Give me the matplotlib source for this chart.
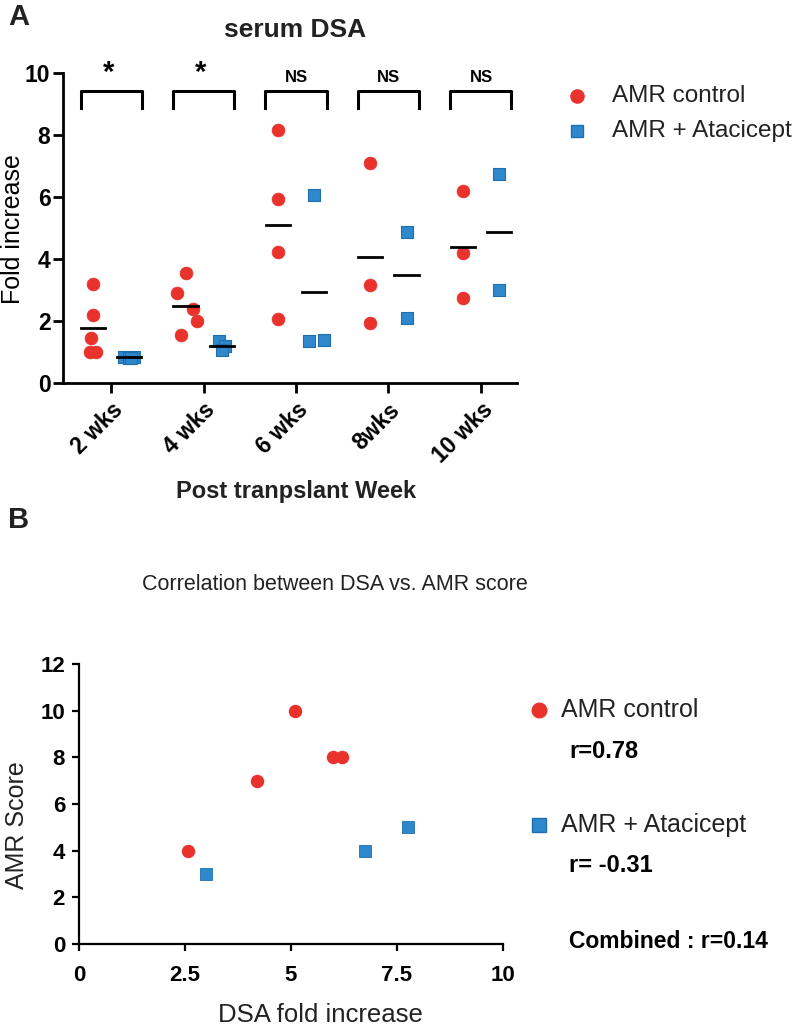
import matplotlib
matplotlib.use("Agg")
import matplotlib.pyplot as plt
import numpy as np

plt.rcParams["font.family"] = ["Liberation Sans", "DejaVu Sans"]

# ---------------- data ----------------
weeks = ["2 wks", "4 wks", "6 wks", "8wks", "10 wks"]
ctrl_vals = [
    [3.2, 2.2, 1.45, 1.0, 1.0],
    [3.55, 2.9, 2.4, 2.0, 1.55],
    [8.15, 5.95, 4.22, 2.05],
    [7.1, 3.15, 1.92],
    [6.2, 4.18, 2.75],
]
atac_vals = [
    [0.85, 0.8, 0.85, 0.8],
    [1.35, 1.2, 1.05],
    [6.05, 1.35, 1.4],
    [4.88, 2.1],
    [6.75, 3.0],
]
signif = ["*", "*", "NS", "NS", "NS"]

dsa_ctrl = [2.57, 4.2, 5.1, 6.0, 6.2]
amr_ctrl = [4, 7, 10, 8, 8]
dsa_atac = [3.0, 6.75, 7.75]
amr_atac = [3, 4, 5]
r_ctrl = "r=0.78"
r_atac = "r= -0.31"
r_comb = "Combined : r=0.14"

# jitter offsets (style: horizontal spread inside each column)
ctrl_jit = [
    [0, 0, -0.02, -0.03, 0.03],
    [0.01, -0.09, 0.08, 0.12, -0.05],
    [0, 0, 0, 0],
    [0, 0, 0],
    [0, 0, 0],
]
atac_jit = [
    [-0.05, 0.0, 0.05, 0.02],
    [-0.03, 0.04, 0.0],
    [0.0, -0.05, 0.11],
    [0, 0],
    [0, 0],
]

RED = "#E8322B"
BLUE = "#2F88CC"
BLUE_E = "#1F6FAE"
TXT = "#222222"

W, H = 800, 1027
fig = plt.figure(figsize=(8, 10.27), dpi=100)


def fx(px):
    return px / W


def fy(py):
    return 1 - py / H


# ---------------- Panel A ----------------
axA = fig.add_axes([fx(63), fy(383), (517 - 63) / W, (383 - 73) / H])
x = np.arange(len(weeks))
off = 0.195
for i in range(len(weeks)):
    cx = x[i] - off + np.array(ctrl_jit[i])
    axA.scatter(cx, ctrl_vals[i], s=85, marker="o", color=RED, edgecolor=RED, linewidth=0.5, zorder=3, clip_on=False)
    bx = x[i] + off + np.array(atac_jit[i])
    axA.scatter(bx, atac_vals[i], s=80, marker="s", color=BLUE, edgecolor=BLUE_E, linewidth=0.8, zorder=3, clip_on=False)
    m1 = np.mean(ctrl_vals[i])
    m2 = np.mean(atac_vals[i])
    axA.plot([x[i] - off - 0.13, x[i] - off + 0.13], [m1, m1], color="black", lw=2, zorder=4)
    axA.plot([x[i] + off - 0.13, x[i] + off + 0.13], [m2, m2], color="black", lw=2, zorder=4)
    # bracket
    axA.plot([x[i] - 0.33, x[i] - 0.33, x[i] + 0.33, x[i] + 0.33], [8.87, 9.42, 9.42, 8.87],
             color="black", lw=2.2, clip_on=False, solid_joinstyle="round")
    if signif[i] == "*":
        axA.text(x[i] - 0.03, 9.55, "*", ha="center", va="bottom", fontsize=21, fontweight="bold")
    else:
        axA.text(x[i], 9.62, "NS", ha="center", va="bottom", fontsize=12, fontweight="bold")

axA.set_xlim(-0.52, 4.39)
axA.set_ylim(0, 10)
axA.set_yticks([0, 2, 4, 6, 8, 10])
axA.set_xticks(x)
axA.set_xticklabels(weeks, rotation=45, ha="right", rotation_mode="anchor", fontsize=16.5, fontweight="bold")
for lab in axA.get_yticklabels():
    lab.set_fontsize(16.5)
    lab.set_fontweight("bold")
for s in ["top", "right"]:
    axA.spines[s].set_visible(False)
for s in ["left", "bottom"]:
    axA.spines[s].set_linewidth(2)
axA.tick_params(axis="both", width=2, length=7, direction="out")
axA.tick_params(axis="x", pad=4)
axA.tick_params(axis="y", pad=2)

fig.text(fx(13), fy(229), "Fold increase", fontsize=18, rotation=90, ha="center", va="center")
fig.text(fx(296), fy(492), "Post tranpslant Week", fontsize=17, fontweight="bold", ha="center", va="center",
         color=TXT)
fig.text(fx(295), fy(30), "serum DSA", fontsize=19, fontweight="bold", ha="center", va="center", color=TXT)

# legend A
fig.lines.append(plt.Line2D([fx(577)], [fy(96)], marker="o", markersize=9.5, color=RED,
                            transform=fig.transFigure, figure=fig))
fig.lines.append(plt.Line2D([fx(577)], [fy(131)], marker="s", markersize=9, color=BLUE,
                            markeredgecolor=BLUE_E, transform=fig.transFigure, figure=fig))
fig.text(fx(612), fy(96), "AMR control", fontsize=17.5, va="center", ha="left", color=TXT)
fig.text(fx(612), fy(131), "AMR + Atacicept", fontsize=17.5, va="center", ha="left", color=TXT)

fig.text(fx(8), fy(17), "A", fontsize=21, fontweight="bold", va="center", ha="left", color=TXT)
fig.text(fx(8), fy(520), "B", fontsize=21, fontweight="bold", va="center", ha="left", color=TXT)

# ---------------- Panel B ----------------
axB = fig.add_axes([fx(79), fy(944), (503 - 79) / W, (944 - 664) / H])
axB.scatter(dsa_ctrl, amr_ctrl, s=75, marker="o", color=RED, zorder=3, clip_on=False)
axB.scatter(dsa_atac, amr_atac, s=80, marker="s", color=BLUE, edgecolor=BLUE_E, linewidth=0.6, zorder=3, clip_on=False)
axB.set_xlim(0, 10)
axB.set_ylim(0, 12)
axB.set_xticks([0, 2.5, 5, 7.5, 10])
axB.set_xticklabels(["0", "2.5", "5", "7.5", "10"])
axB.set_yticks([0, 2, 4, 6, 8, 10, 12])
for lab in axB.get_xticklabels() + axB.get_yticklabels():
    lab.set_fontsize(16)
    lab.set_fontweight("bold")
for s in ["top", "right"]:
    axB.spines[s].set_visible(False)
for s in ["left", "bottom"]:
    axB.spines[s].set_linewidth(1.6)
axB.tick_params(axis="both", width=1.6, length=5, direction="out")
axB.tick_params(axis="x", pad=10)
axB.tick_params(axis="y", pad=5)

fig.text(fx(320), fy(1015), "DSA fold increase", fontsize=18.5, ha="center", va="center", color=TXT)
fig.text(fx(17), fy(825), "AMR Score", fontsize=18, rotation=90, ha="center", va="center", color=TXT)
fig.text(fx(335), fy(585), "Correlation between DSA vs. AMR score", fontsize=15.5,
         ha="center", va="center", color=TXT)

# legend B
fig.lines.append(plt.Line2D([fx(539)], [fy(710)], marker="o", markersize=10.5, color=RED,
                            transform=fig.transFigure, figure=fig))
fig.lines.append(plt.Line2D([fx(539)], [fy(825)], marker="s", markersize=9.5, color=BLUE,
                            markeredgecolor=BLUE_E, transform=fig.transFigure, figure=fig))
fig.text(fx(561), fy(710), "AMR control", fontsize=18, va="center", ha="left", color=TXT)
fig.text(fx(561), fy(825), "AMR + Atacicept", fontsize=18, va="center", ha="left", color=TXT)
fig.text(fx(569), fy(752), r_ctrl, fontsize=17, fontweight="bold", va="center", ha="left")
fig.text(fx(569), fy(865), r_atac, fontsize=17, fontweight="bold", va="center", ha="left")
fig.text(fx(569), fy(942), r_comb, fontsize=16.5, fontweight="bold", va="center", ha="left")

fig.savefig("out.png", dpi=100)
